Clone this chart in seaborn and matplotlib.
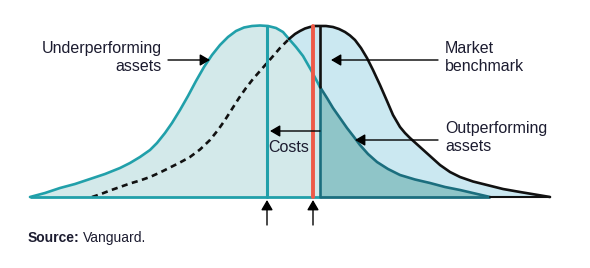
import numpy as np
import matplotlib
matplotlib.use("Agg")
import matplotlib.pyplot as plt
from matplotlib import font_manager
import seaborn as sns

# ---- data (x = return scale, h = density height) ----
teal_x = [30, 45, 60, 75, 90, 105, 120, 130, 140, 150, 157, 165, 172, 180, 188,
          196, 204, 212, 220, 228, 236, 244, 252, 260, 268, 276, 283, 289, 296,
          303, 311, 320, 327, 333, 340, 347, 354, 360, 368, 377, 388, 400, 415,
          430, 445, 460, 475, 490]
teal_y = [197, 193, 188, 184, 179, 174, 168, 163, 157, 150, 143, 133, 123, 110, 96,
          81, 67, 55, 45, 37, 31, 27.5, 26, 25.5, 26, 28, 32, 39, 47,
          56, 70, 87, 98, 108, 118, 128, 137, 145, 154, 162, 169, 175, 179.5,
          183, 187, 190, 193.5, 197]

bench_x = [92, 101, 110, 120, 130, 140, 150, 160, 170, 180, 190, 200, 210, 218,
           225, 232, 239, 246, 253, 260, 267, 274, 280, 285, 289, 295, 300, 305,
           310, 315, 320, 326, 333, 339, 345, 350, 355, 361, 367, 373, 380, 387,
           393, 400, 405, 410, 420, 430, 440, 450, 460, 473, 487, 503, 520, 535, 550]
bench_y = [197, 194, 190.5, 187, 183.5, 180.5, 177, 172.5, 167.5, 162.5, 157, 149.5,
           140, 130, 120, 109, 98, 88, 79, 71, 63, 55, 48, 43, 39, 34, 31, 28.5,
           27, 26, 26, 26, 27, 29, 32, 35.5, 40, 48, 58, 70, 85, 101, 115, 127,
           133, 138, 147, 156, 165, 172, 177, 181.5, 185, 189, 192, 194.5, 197]

BASE = 197  # baseline level in the picture
teal_h = [BASE - v for v in teal_y]
bench_h = [BASE - v for v in bench_y]

crossing_x = 289          # where benchmark curve emerges from the teal curve
teal_mean = 267           # teal vertical line
net_return = 313          # red line
bench_mean = 320          # benchmark vertical line

labels = {
    "under": "Underperforming\nassets",
    "market": "Market\nbenchmark",
    "out": "Outperforming\nassets",
    "costs": "Costs",
}

# ---- style ----
sns.set_theme(style="white")
plt.rcParams["font.family"] = ["Liberation Sans", "DejaVu Sans"]
names = {f.name for f in font_manager.fontManager.ttflist}
if "Liberation Sans Narrow" in names:
    src_family, src_size = ["Liberation Sans Narrow", "Liberation Sans"], 11.5
else:
    src_family, src_size = ["Liberation Sans", "DejaVu Sans"], 10

TEAL = "#21a0aa"
DTEAL = "#1b6e7e"
BLACK = "#111111"
RED = "#ee5a48"
FILL_BLUE = "#cbe8f1"
FILL_TEAL = "#d3e9ea"
FILL_DARK = "#8fc5c8"
TXT = "#1c1c30"

fig = plt.figure(figsize=(5.9, 2.68), dpi=100)
ax = fig.add_axes([0, 0, 1, 1])
ax.set_xlim(0, 590)
ax.set_ylim(BASE - 268, BASE)
ax.axis("off")

tx = np.array(teal_x, float); th = np.array(teal_h, float)
bx = np.array(bench_x, float); bh = np.array(bench_h, float)

# fills
ax.fill_between(bx, 0, bh, color=FILL_BLUE, lw=0, zorder=1)
ax.fill_between(tx, 0, th, color=FILL_TEAL, lw=0, zorder=2)
m = tx >= bench_mean
ax.fill_between(tx[m], 0, th[m], color=FILL_DARK, lw=0, zorder=3)

# benchmark curve: dashed inside teal area, solid outside
ml = bx <= crossing_x
mr = bx >= crossing_x
sns.lineplot(x=bx[ml], y=bh[ml], ax=ax, color=BLACK, lw=1.9, sort=False,
             estimator=None, linestyle=(0, (2.3, 1.7)), zorder=4)
sns.lineplot(x=bx[mr], y=bh[mr], ax=ax, color=BLACK, lw=1.9, sort=False,
             estimator=None, zorder=6)

# teal curve
mt = tx <= bench_mean
sns.lineplot(x=tx[mt], y=th[mt], ax=ax, color=TEAL, lw=1.9, sort=False,
             estimator=None, zorder=5)
sns.lineplot(x=tx[m], y=th[m], ax=ax, color=DTEAL, lw=1.9, sort=False,
             estimator=None, zorder=5)

# baseline
ax.plot([teal_x[0], bench_mean], [0, 0], color=TEAL, lw=2.0, zorder=5,
        solid_capstyle="butt")
ax.plot([bench_mean, teal_x[-1]], [0, 0], color=DTEAL, lw=2.0, zorder=5,
        solid_capstyle="butt")
ax.plot([teal_x[-1], bench_x[-1]], [0, 0], color=BLACK, lw=1.5, zorder=5)

# vertical lines
ax.plot([teal_mean] * 2, [0, np.interp(teal_mean, tx, th)], color=TEAL, lw=2.2, zorder=7)
ax.plot([net_return] * 2, [0, np.interp(net_return, bx, bh)], color=RED, lw=2.8, zorder=7)
t_at_b = np.interp(bench_mean, tx, th)
ax.plot([bench_mean] * 2, [0, t_at_b], color=DTEAL, lw=1.9, zorder=7)
ax.plot([bench_mean] * 2, [t_at_b, np.interp(bench_mean, bx, bh)], color=BLACK,
        lw=1.9, zorder=7)

# arrows
ap = dict(arrowstyle="-|>,head_length=0.6,head_width=0.35", mutation_scale=10,
          color="black", lw=1.0, shrinkA=0, shrinkB=0)
def arrow(tail, tip):
    ax.annotate("", xy=tip, xytext=tail, arrowprops=ap, zorder=8)

arrow((168, 137), (210, 137))
arrow((438, 137), (331, 137))
arrow((438, 57), (355, 57))
arrow((bench_mean, 66), (270, 66))
arrow((teal_mean, -28), (teal_mean, -3))
arrow((net_return, -28), (net_return, -3))

fs = 11.5
ax.text(162, 139.5, labels["under"], ha="right", va="center", fontsize=fs,
        color=TXT, linespacing=1.2)
ax.text(445, 139.5, labels["market"], ha="left", va="center", fontsize=fs,
        color=TXT, linespacing=1.2)
ax.text(445, 59.5, labels["out"], ha="left", va="center", fontsize=fs,
        color=TXT, linespacing=1.2)
ax.text(289, 49, labels["costs"], ha="center", va="center", fontsize=fs,
        color=TXT, zorder=9)

t1 = ax.text(28, -45, "Source:", ha="left", va="baseline", fontsize=src_size,
             fontweight="bold", color=TXT, family=src_family)
fig.canvas.draw()
r = fig.canvas.get_renderer()
bb = t1.get_window_extent(r)
x_end = ax.transData.inverted().transform((bb.x1, bb.y0))[0]
ax.text(x_end + 3, -45, "Vanguard.", ha="left", va="baseline", fontsize=src_size,
        color=TXT, family=src_family)

fig.savefig("out.png", dpi=100, facecolor="white")
